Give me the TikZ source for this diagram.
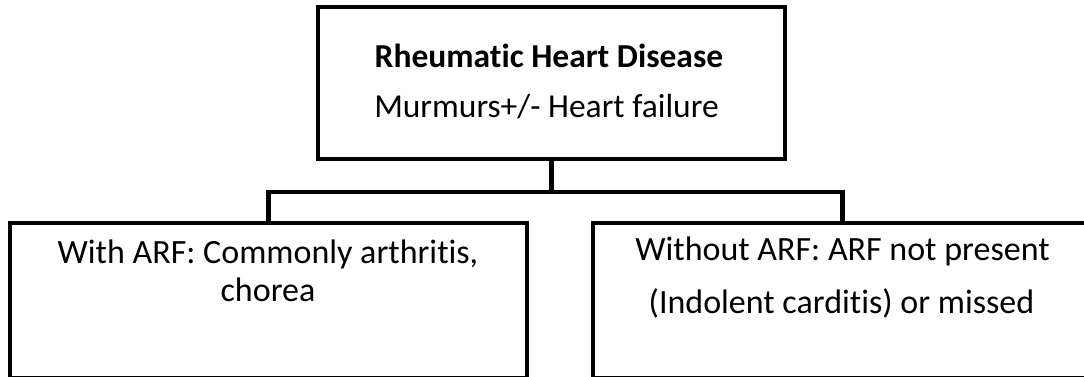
\documentclass[tikz,border=0pt]{standalone}
\usepackage{fontspec}
\setmainfont{Carlito}[Ligatures=NoCommon]
\begin{document}
\begin{tikzpicture}[x=1pt,y=-1pt,
  box/.style={draw=black, line width=4.5pt, rectangle, inner sep=0pt, line join=miter},
  link/.style={draw=black, line width=4.5pt, line join=miter},
  txt/.style={anchor=base, inner sep=0pt, font=\fontsize{34}{40}\selectfont}]
  \useasboundingbox (0,0) rectangle (1084,377);
  \begin{scope}
    \clip (0,0) rectangle (1084,377);
    % boxes
    \node[box, minimum width=467pt, minimum height=152pt] (top) at (551.5,83) {};
    \node[box, minimum width=517pt, minimum height=155.5pt] (left) at (268.5,300.75) {};
    \node[box, minimum width=499pt, minimum height=155.5pt] (right) at (842.5,300.75) {};
    % connectors
    \coordinate (j) at (551.5,192);
    \draw[link] (top.south) -- (j);
    \draw[link] (left.north) -- (left.north |- j) -- (right.north |- j) -- (right.north);
  \end{scope}
  % texts
  \node[txt, font=\fontsize{33.5}{40}\selectfont\bfseries] (t1) at (549,68) {Rheumatic Heart Disease};
  \node[txt, font=\fontsize{33.5}{40}\selectfont] (t2) at (546.5,118) {Murmurs+/- Heart failure};
  \node[txt] (l1) at (268,263) {With ARF: Commonly arthritis,};
  \node[txt] (l2) at (268,301) {chorea};
  \node[txt] (r1) at (842.5,260) {Without ARF: ARF not present};
  \node[txt] (r2) at (841.5,313) {(Indolent carditis) or missed};
\end{tikzpicture}
\end{document}
